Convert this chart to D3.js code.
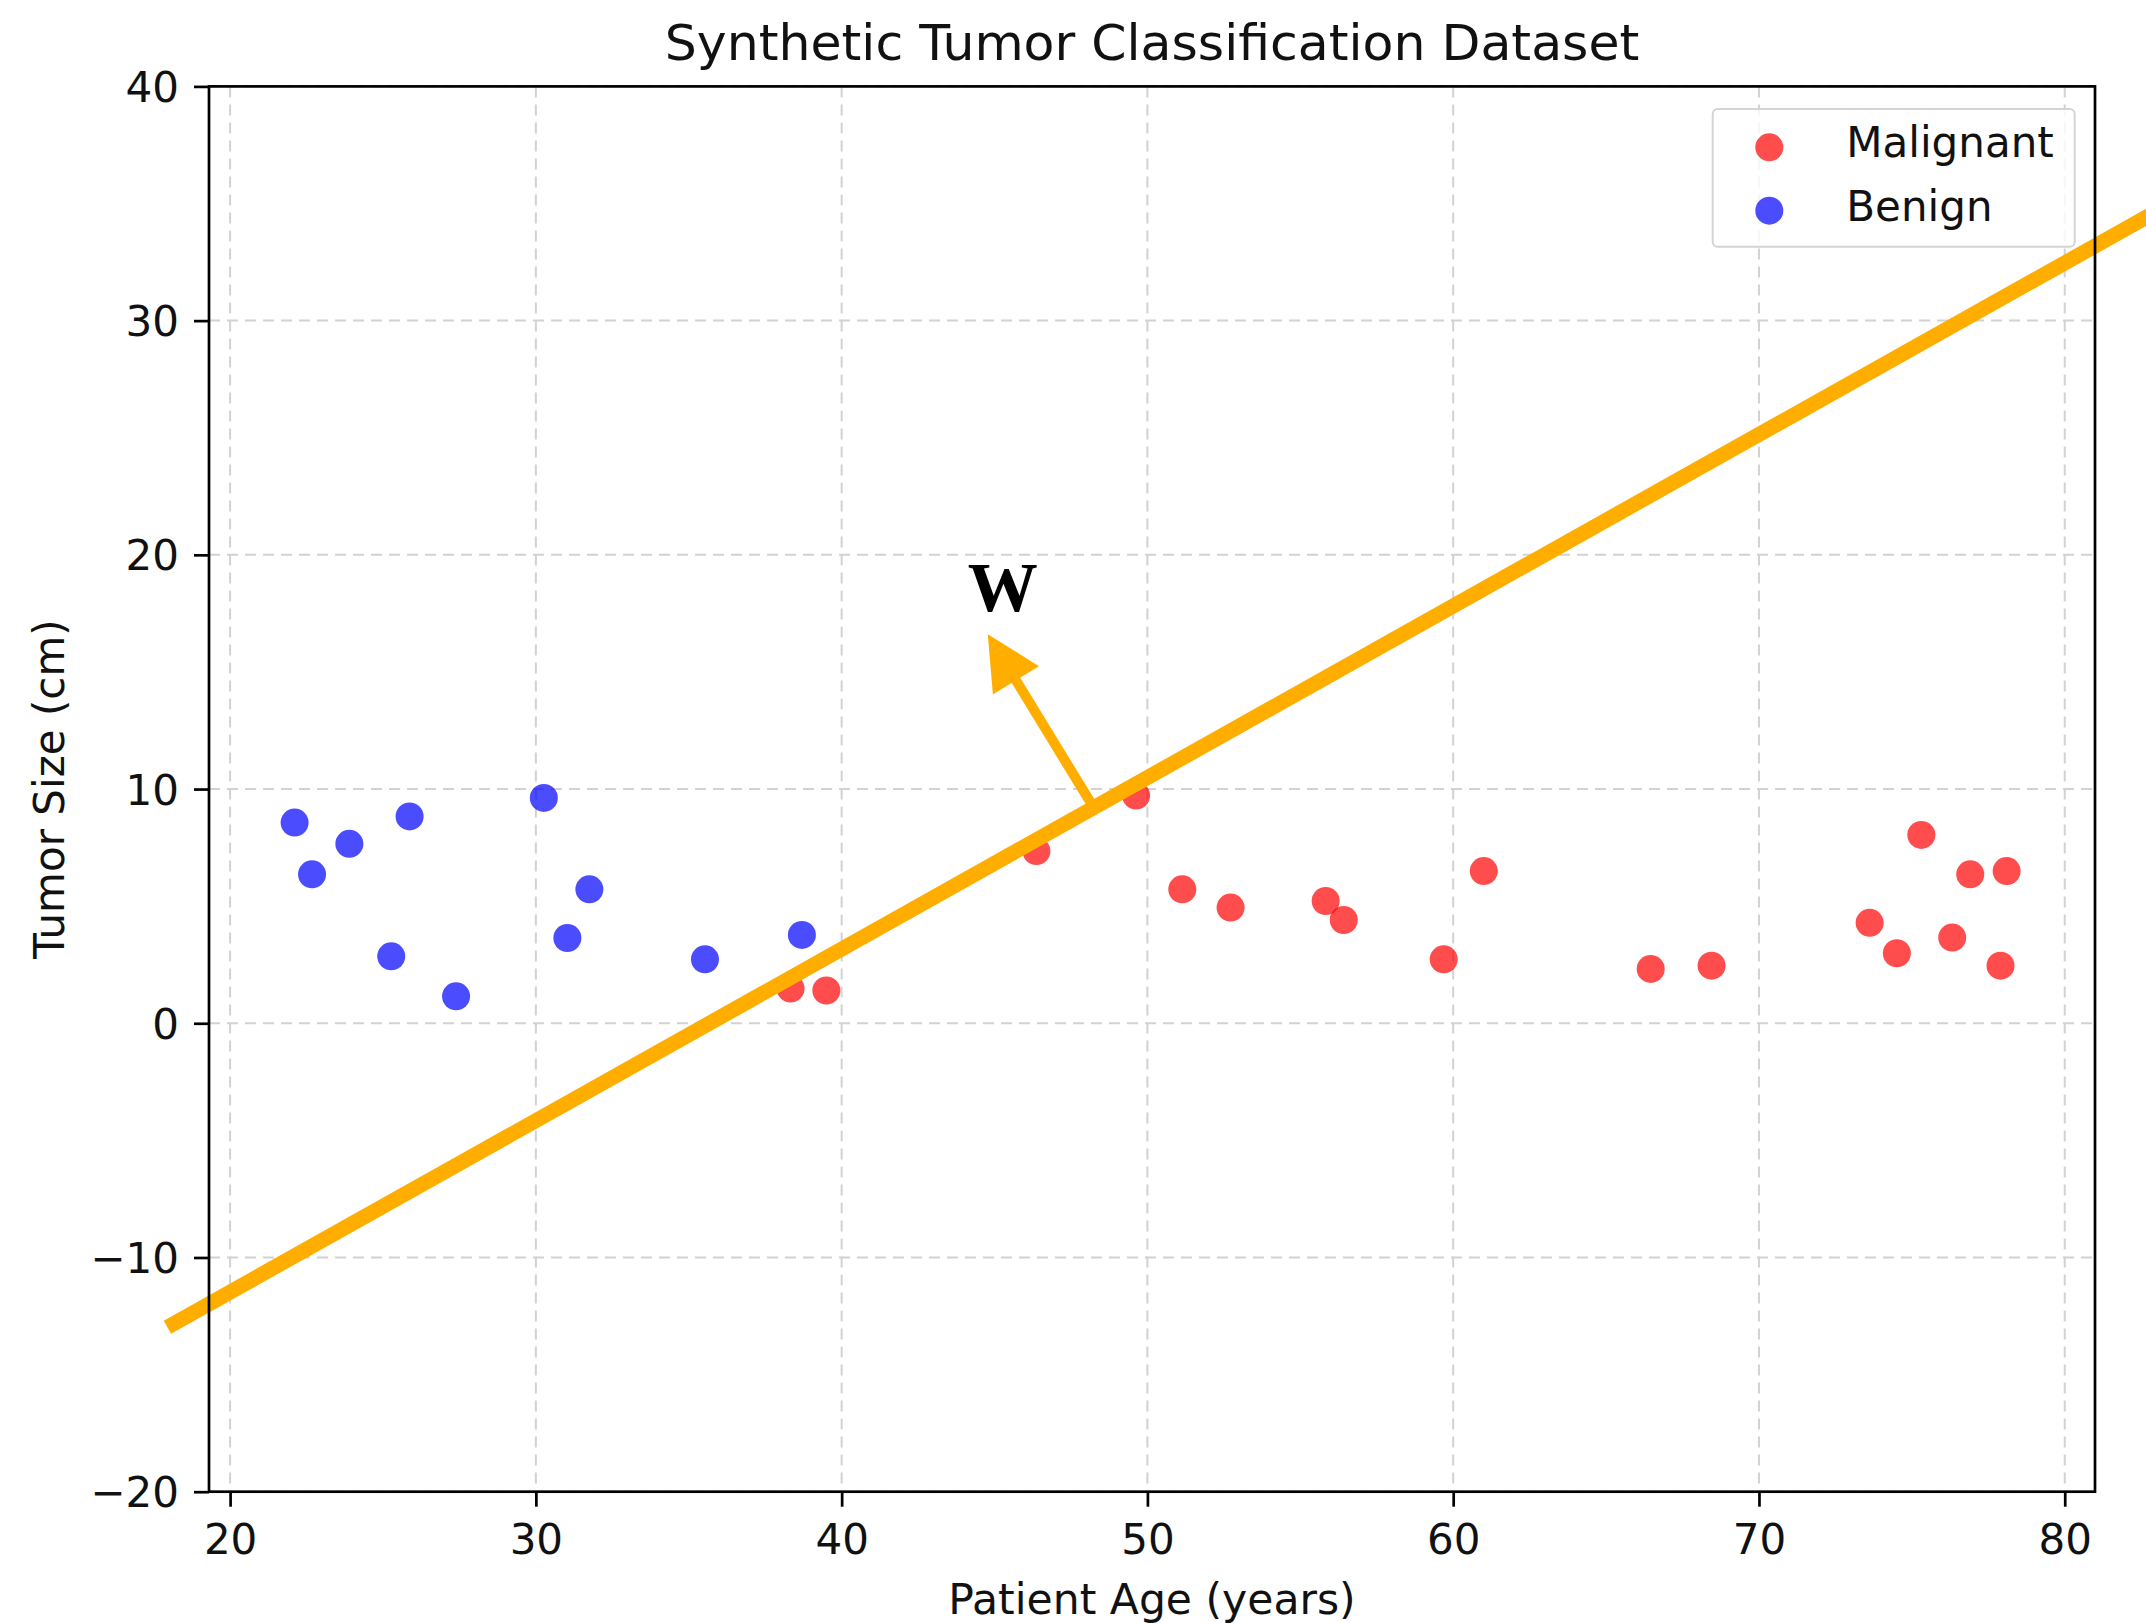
<!DOCTYPE html>
<html>
<head>
<meta charset="utf-8">
<title>Synthetic Tumor Classification Dataset</title>
<script src="https://cdn.jsdelivr.net/npm/d3@7/dist/d3.min.js"></script>
<style>
	html, body { margin: 0; padding: 0; background: #fff; }
	svg { display: block; font-family: "DejaVu Sans", sans-serif; }
</style>
</head>
<body>
<div id="graph"></div>
<script>
	'use strict';

	// Malignant points (age, size)
	var malignantAge = [38.33, 39.50, 46.37, 49.63, 51.14, 52.72, 55.83, 56.42, 59.69, 61.00,
			66.46, 68.45, 73.62, 74.51, 75.31, 76.32, 76.91, 78.10, 77.90];
	var malignantSize = [1.48, 1.40, 7.35, 9.72, 5.72, 4.94, 5.22, 4.41, 2.73, 6.50,
			2.32, 2.46, 4.29, 2.99, 8.04, 3.66, 6.36, 6.50, 2.46];

	// Benign points (age, size)
	var benignAge = [22.11, 22.68, 23.90, 25.87, 25.27, 27.39, 30.26, 31.75, 31.03, 35.53, 38.70];
	var benignSize = [8.57, 6.36, 7.66, 8.83, 2.86, 1.15, 9.62, 5.72, 3.64, 2.73, 3.77];

	// decision boundary and normal vector w
	var boundaryX = [17.95, 84.0];
	var boundaryY = [-12.98, 35.39];
	var arrowX = [48.2, 44.78];
	var arrowY = [9.3, 16.61];
	var wLabel = { x: 45.27, y: 17.6, text: 'W' };

	var xTicks = [20, 30, 40, 50, 60, 70, 80];
	var yTicks = [-20, -10, 0, 10, 20, 30, 40];
	var xDomain = [19.31, 80.99];
	var yDomain = [-20, 40];

	var legendNames = ['Malignant', 'Benign'];
	var legendColors = ['red', 'blue'];

	var W = 2146, H = 1623;
	var margin = { top: 86.4, right: 51, bottom: 131.3, left: 209 };
	var plotL = margin.left, plotR = W - margin.right,
			plotT = margin.top, plotB = H - margin.bottom;

	var x = d3.scaleLinear().domain(xDomain).range([plotL, plotR]);
	var y = d3.scaleLinear().domain(yDomain).range([plotB, plotT]);

	var fmt = function (d) { return d < 0 ? '\u2212' + Math.abs(d) : String(d); };

	var svg = d3.select('#graph')
		.append('svg')
		.attr('width', W)
		.attr('height', H);

	// grid
	var grid = svg.append('g')
		.attr('stroke', '#d2d2d2')
		.attr('stroke-width', 2)
		.attr('stroke-dasharray', '11,7');

	grid.selectAll('line.gx')
		.data(xTicks)
		.enter().append('line')
		.attr('x1', function (d) { return x(d); })
		.attr('x2', function (d) { return x(d); })
		.attr('y1', plotT)
		.attr('y2', plotB);

	grid.selectAll('line.gy')
		.data(yTicks)
		.enter().append('line')
		.attr('x1', plotL)
		.attr('x2', plotR)
		.attr('y1', function (d) { return y(d); })
		.attr('y2', function (d) { return y(d); });

	// scatter
	var malignant = malignantAge.map(function (a, i) { return { x: a, y: malignantSize[i] }; });
	var benign = benignAge.map(function (a, i) { return { x: a, y: benignSize[i] }; });

	svg.append('g').selectAll('circle')
		.data(malignant)
		.enter().append('circle')
		.attr('cx', function (d) { return x(d.x); })
		.attr('cy', function (d) { return y(d.y); })
		.attr('r', 14)
		.attr('fill', 'red')
		.attr('fill-opacity', 0.7);

	svg.append('g').selectAll('circle')
		.data(benign)
		.enter().append('circle')
		.attr('cx', function (d) { return x(d.x); })
		.attr('cy', function (d) { return y(d.y); })
		.attr('r', 14)
		.attr('fill', 'blue')
		.attr('fill-opacity', 0.7);

	// boundary line
	var orange = '#ffae00';
	var boundary = boundaryX.map(function (v, i) { return { x: v, y: boundaryY[i] }; });

	svg.append('path')
		.datum(boundary)
		.attr('fill', 'none')
		.attr('stroke', orange)
		.attr('stroke-width', 15)
		.attr('d', d3.line()
			.x(function (d) { return x(d.x); })
			.y(function (d) { return y(d.y); })
		);

	// w arrow
	var x0 = x(arrowX[0]), y0 = y(arrowY[0]),
			x1 = x(arrowX[1]), y1 = y(arrowY[1]);
	var dx = x1 - x0, dy = y1 - y0,
			len = Math.sqrt(dx * dx + dy * dy),
			ux = dx / len, uy = dy / len,
			headLen = 54, headW = 27;
	var bx = x1 - ux * headLen, by = y1 - uy * headLen;

	svg.append('line')
		.attr('x1', x0)
		.attr('y1', y0)
		.attr('x2', bx + ux * 2)
		.attr('y2', by + uy * 2)
		.attr('stroke', orange)
		.attr('stroke-width', 10);

	svg.append('path')
		.attr('fill', orange)
		.attr('d', 'M' + x1 + ',' + y1 +
			'L' + (bx - uy * headW) + ',' + (by + ux * headW) +
			'L' + (bx + uy * headW) + ',' + (by - ux * headW) + 'Z');

	svg.append('text')
		.attr('x', x(wLabel.x))
		.attr('y', y(wLabel.y))
		.attr('text-anchor', 'middle')
		.attr('font-family', '"Liberation Serif", "DejaVu Serif", serif')
		.attr('font-weight', 'bold')
		.attr('font-size', 70)
		.attr('fill', '#000')
		.text(wLabel.text);

	// frame
	svg.append('rect')
		.attr('x', plotL)
		.attr('y', plotT)
		.attr('width', plotR - plotL)
		.attr('height', plotB - plotT)
		.attr('fill', 'none')
		.attr('stroke', '#000')
		.attr('stroke-width', 2.7);

	// axes
	var xAxis = svg.append('g')
		.attr('transform', 'translate(0,' + plotB + ')')
		.call(d3.axisBottom(x).tickValues(xTicks).tickFormat(fmt).tickSize(15).tickPadding(15));
	var yAxis = svg.append('g')
		.attr('transform', 'translate(' + plotL + ',0)')
		.call(d3.axisLeft(y).tickValues(yTicks).tickFormat(fmt).tickSize(15).tickPadding(15));

	[xAxis, yAxis].forEach(function (ax) {
		ax.select('.domain').remove();
		ax.selectAll('.tick line').attr('stroke', '#000').attr('stroke-width', 2.7);
		ax.selectAll('.tick text')
			.attr('fill', '#111')
			.attr('font-size', 42)
			.attr('font-family', '"DejaVu Sans", sans-serif');
	});
	xAxis.selectAll('.tick text').attr('dy', '0.76em');
	yAxis.selectAll('.tick text').attr('dy', '0.36em');

	// titles
	svg.append('text')
		.attr('x', (plotL + plotR) / 2)
		.attr('y', 60)
		.attr('text-anchor', 'middle')
		.attr('font-size', 50.5)
		.attr('fill', '#111')
		.text('Synthetic Tumor Classification Dataset');

	svg.append('text')
		.attr('x', (plotL + plotR) / 2)
		.attr('y', 1614)
		.attr('text-anchor', 'middle')
		.attr('font-size', 42.5)
		.attr('fill', '#111')
		.text('Patient Age (years)');

	svg.append('text')
		.attr('transform', 'translate(64,' + (plotT + plotB) / 2 + ') rotate(-90)')
		.attr('text-anchor', 'middle')
		.attr('font-size', 42)
		.attr('fill', '#111')
		.text('Tumor Size (cm)');

	// legend
	var lg = svg.append('g');
	lg.append('rect')
		.attr('x', 1712.7)
		.attr('y', 109)
		.attr('width', 362)
		.attr('height', 137.7)
		.attr('rx', 5)
		.attr('fill', '#fff')
		.attr('fill-opacity', 0.8)
		.attr('stroke', '#d4d4d4')
		.attr('stroke-width', 2);

	var item = lg.selectAll('g.item')
		.data(legendNames)
		.enter().append('g')
		.attr('transform', function (d, i) { return 'translate(1769.3,' + (147.3 + i * 63.4) + ')'; });

	item.append('circle')
		.attr('r', 14)
		.attr('fill', function (d, i) { return legendColors[i]; })
		.attr('fill-opacity', 0.7);

	item.append('text')
		.attr('x', 77)
		.attr('y', 10)
		.attr('font-size', 42)
		.attr('fill', '#111')
		.text(function (d) { return d; });
</script>
</body>
</html>
